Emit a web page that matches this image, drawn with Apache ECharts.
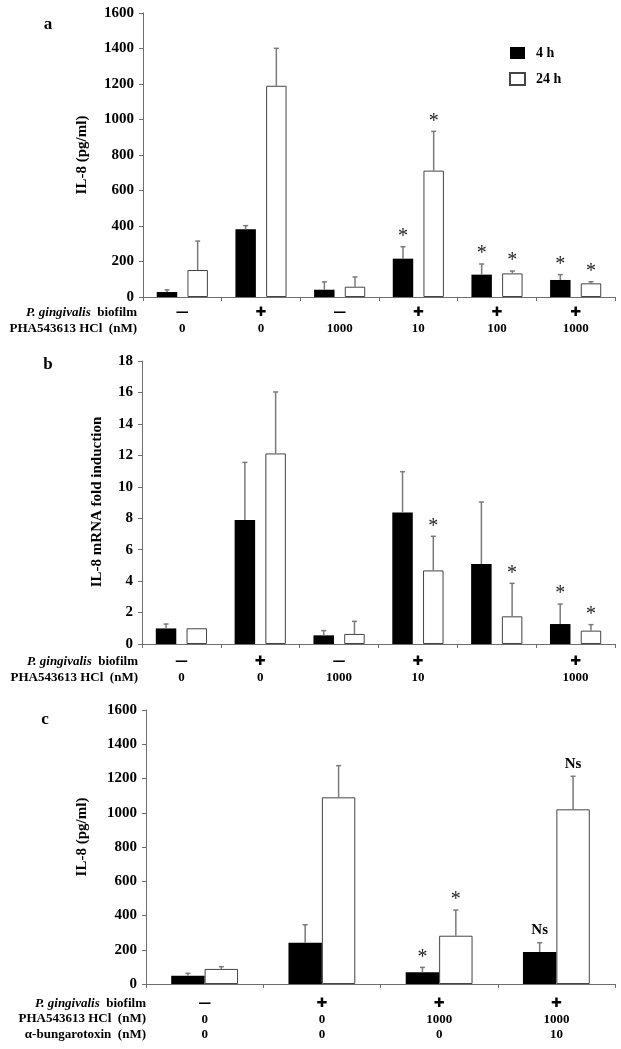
<!DOCTYPE html>
<html><head><meta charset="utf-8">
<script src="https://cdn.jsdelivr.net/npm/echarts@6/dist/echarts.min.js"></script>
<style>html,body{margin:0;padding:0;background:#fff}#c{width:621px;height:1049px}</style>
</head><body><div id="c"></div>
<script>
// ---------- data ----------
// Panel a: IL-8 protein (pg/ml)
const biofilmA = ['—','✚','—','✚','✚','✚'];
const phaA = ['0','0','1000','10','100','1000'];
const meanA4 = [28, 381, 41, 216, 126, 96];
const errA4 = [12, 21, 44, 67, 60, 30];
const meanA24 = [152, 1190, 58, 712, 133, 77];
const errA24 = [163, 211, 55, 221, 13, 9];
const markA4 = ['', '', '', '*', '*', '*'];
const markA24 = ['', '', '', '*', '*', '*'];
const ticksA = [0, 1600, 200];

// Panel b: IL-8 mRNA fold induction
const biofilmB = ['—','✚','—','✚','','✚'];
const phaB = ['0','0','1000','10','','1000'];
const meanB4 = [0.99, 7.89, 0.55, 8.37, 5.09, 1.27];
const errB4 = [0.28, 3.66, 0.30, 2.59, 3.94, 1.27];
const meanB24 = [1.0, 12.12, 0.64, 4.68, 1.76, 0.85];
const errB24 = [0.02, 3.91, 0.80, 2.17, 2.10, 0.38];
const markB4 = ['', '', '', '', '', '*'];
const markB24 = ['', '', '', '*', '*', '*'];
const ticksB = [0, 18, 2];

// Panel c: IL-8 protein with alpha-bungarotoxin
const biofilmC = ['—','✚','✚','✚'];
const phaC = ['0','0','1000','1000'];
const bungC = ['0','0','0','10'];
const meanC4 = [48, 241, 68, 187];
const errC4 = [14, 105, 29, 54];
const meanC24 = [88, 1090, 282, 1020];
const errC24 = [13, 185, 150, 193];
const markC4 = ['', '', '*', 'Ns'];
const markC24 = ['', '', '*', 'Ns'];
const ticksC = [0, 1600, 200];

const seriesNames = ['4 h', '24 h'];

// ---------- chart ----------
const SERIF = '"Liberation Serif","Times New Roman",serif';
const AX = '#6e6e6e';
const chart = echarts.init(document.getElementById('c'), null, {renderer: 'canvas'});

function xAxisCfg(gi, rows, margin, lh) {
  return {
    type: 'category', gridIndex: gi, data: rows[0].map((_, i) => String(i)),
    axisLine: {lineStyle: {color: AX, width: 1}},
    axisTick: {show: true, length: 4, lineStyle: {color: AX}},
    axisLabel: {
      interval: 0, margin: margin,
      formatter: (v, i) => rows.map((r, k) => k === 0 ? '{s|' + (r[i] || ' ') + '}' : '{n|' + (r[i] || ' ') + '}').join('\n'),
      rich: {
        s: {fontFamily: '"DejaVu Sans",sans-serif', fontWeight: 'bold', fontSize: 13, lineHeight: lh, color: '#000'},
        n: {fontFamily: SERIF, fontWeight: 'bold', fontSize: 13, lineHeight: lh, color: '#000'}
      }
    }
  };
}
function yAxisCfg(gi, t) {
  return {
    type: 'value', gridIndex: gi, min: t[0], max: t[1], interval: t[2],
    splitLine: {show: false},
    axisLine: {show: true, lineStyle: {color: AX, width: 1}},
    axisTick: {show: true, length: 4, lineStyle: {color: AX}},
    axisLabel: {margin: 9, fontFamily: SERIF, fontWeight: 'bold', fontSize: 15, color: '#000',
      formatter: v => String(v)}
  };
}
function barSeries(gi, name, vals, dark, bw, gap) {
  return {
    type: 'bar', name: name, xAxisIndex: gi, yAxisIndex: gi, data: vals,
    barWidth: bw, barGap: gap,
    itemStyle: dark ? {color: '#000'} : {color: '#fff', borderColor: '#444', borderWidth: 1},
    emphasis: {disabled: true}, animation: false
  };
}
function errSeries(gi, means, errs, marks, offFrac) {
  return {
    type: 'custom', xAxisIndex: gi, yAxisIndex: gi, z: 5, silent: true, animation: false,
    data: means.map((m, i) => [i, m, errs[i]]),
    renderItem: function (params, api) {
      const i = api.value(0), m = api.value(1), e = api.value(2);
      const band = api.size([1, 0])[0];
      const b = api.coord([i, m]), t = api.coord([i, m + e]);
      const x = b[0] + offFrac * band;
      const ch = [];
      if (e > 0.03) {
        ch.push({type: 'line', shape: {x1: x, y1: b[1], x2: x, y2: t[1]}, style: {stroke: '#7a7a7a', lineWidth: 1.5}});
        ch.push({type: 'line', shape: {x1: x - 2.5, y1: t[1], x2: x + 2.5, y2: t[1]}, style: {stroke: '#7a7a7a', lineWidth: 1.5}});
      }
      const mk = marks[params.dataIndex];
      if (mk) {
        const star = mk === '*';
        ch.push({type: 'text', x: x, y: t[1] - (star ? 0 : 5), style: {
          text: mk, textAlign: 'center', textVerticalAlign: 'bottom',
          font: (star ? 'normal 20px ' : 'bold 15px ') + SERIF, fill: star ? '#222' : '#000'}});
      }
      return {type: 'group', children: ch};
    }
  };
}
function txt(x, y, s, font, align, rot) {
  return {type: 'text', x: x, y: y, rotation: rot || 0, silent: true, style: {
    text: s, font: font, fill: '#000', textAlign: align || 'left', textVerticalAlign: 'middle'}};
}
function richRow(x, y, s) {
  return {type: 'text', x: x, y: y, silent: true, style: {
    text: s, textAlign: 'right', textVerticalAlign: 'middle', fill: '#000',
    font: 'bold 13px ' + SERIF,
    rich: {i: {fontStyle: 'italic', fontWeight: 'bold', fontSize: 13, fontFamily: SERIF}}}};
}

const offAB = 0.195, offC = 0.1425;
const option = {
  backgroundColor: '#fff',
  animation: false,
  grid: [
    {left: 143, right: 6, top: 13, height: 284},
    {left: 142, right: 6, top: 361, height: 283},
    {left: 146, right: 6, top: 710, height: 274}
  ],
  legend: {
    data: seriesNames, left: 509, top: 46, orient: 'vertical', padding: 0, itemGap: 12,
    itemWidth: 15, itemHeight: 12, icon: 'rect', selectedMode: false,
    textStyle: {fontFamily: SERIF, fontWeight: 'bold', fontSize: 14, color: '#000', padding: [0, 0, 0, 6]}
  },
  xAxis: [
    xAxisCfg(0, [biofilmA, phaA], 8, 16),
    xAxisCfg(1, [biofilmB, phaB], 10, 16),
    xAxisCfg(2, [biofilmC, phaC, bungC], 12, 15.5)
  ],
  yAxis: [yAxisCfg(0, ticksA), yAxisCfg(1, ticksB), yAxisCfg(2, ticksC)],
  series: [
    barSeries(0, seriesNames[0], meanA4, true, '26%', '50%'),
    barSeries(0, seriesNames[1], meanA24, false, '26%', '50%'),
    errSeries(0, meanA4, errA4, markA4, -offAB),
    errSeries(0, meanA24, errA24, markA24, offAB),
    barSeries(1, seriesNames[0], meanB4, true, '26%', '50%'),
    barSeries(1, seriesNames[1], meanB24, false, '26%', '50%'),
    errSeries(1, meanB4, errB4, markB4, -offAB),
    errSeries(1, meanB24, errB24, markB24, offAB),
    barSeries(2, seriesNames[0], meanC4, true, '28.5%', '0%'),
    barSeries(2, seriesNames[1], meanC24, false, '28.5%', '0%'),
    errSeries(2, meanC4, errC4, markC4, -offC),
    errSeries(2, meanC24, errC24, markC24, offC)
  ],
  graphic: [
    txt(48, 25, 'a', 'bold 17px ' + SERIF, 'center'),
    txt(48, 365, 'b', 'bold 17px ' + SERIF, 'center'),
    txt(45, 720, 'c', 'bold 17px ' + SERIF, 'center'),
    txt(82, 155, 'IL-8 (pg/ml)', 'bold 15px ' + SERIF, 'center', Math.PI / 2),
    txt(97, 502, 'IL-8 mRNA fold induction', 'bold 15px ' + SERIF, 'center', Math.PI / 2),
    txt(82, 837, 'IL-8 (pg/ml)', 'bold 15px ' + SERIF, 'center', Math.PI / 2),
    richRow(137, 313, '{i|P. gingivalis}  biofilm'),
    richRow(137, 329, 'PHA543613 HCl  (nM)'),
    richRow(138, 662, '{i|P. gingivalis}  biofilm'),
    richRow(138, 678, 'PHA543613 HCl  (nM)'),
    richRow(146, 1004, '{i|P. gingivalis}  biofilm'),
    richRow(146, 1019, 'PHA543613 HCl  (nM)'),
    richRow(146, 1035, 'α-bungarotoxin  (nM)')
  ]
};
chart.setOption(option);
</script>
</body></html>
